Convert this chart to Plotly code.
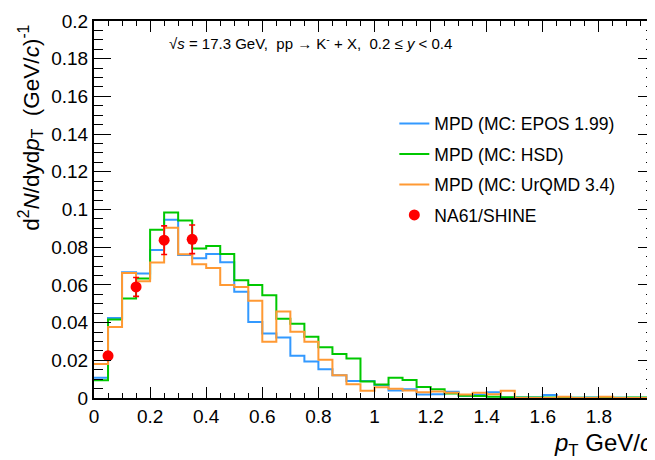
import plotly.graph_objects as go

# ---------------- data ----------------
bin_edges = [round(i * 0.05, 2) for i in range(41)]  # 0 .. 2.0 GeV/c, 0.05 bins

epos_values = [0.0108, 0.0424, 0.0667, 0.0660, 0.0785, 0.0946, 0.0759, 0.0741, 0.0764, 0.0720,
               0.0564, 0.0403, 0.0342, 0.0321, 0.0224, 0.0194, 0.0153, 0.0121, 0.0090, 0.0090,
               0.0069, 0.0040, 0.0047, 0.0018, 0.0020, 0.0033, 0.0012, 0.0017, 0.0030, 0.0002,
               0.0002, 0.0002, 0.0016, 0.0002, 0.0001, 0.0003, 0.0000, 0.0001, 0.0001, 0.0001]

hsd_values = [0.0094, 0.0417, 0.0528, 0.0634, 0.0892, 0.0984, 0.0941, 0.0793, 0.0807, 0.0764,
              0.0625, 0.0599, 0.0545, 0.0420, 0.0394, 0.0325, 0.0269, 0.0234, 0.0210, 0.0087,
              0.0071, 0.0108, 0.0095, 0.0059, 0.0047, 0.0024, 0.0012, 0.0010, 0.0007, 0.0004,
              0.0003, 0.0003, 0.0003, 0.0000, 0.0001, 0.0001, 0.0001, 0.0001, 0.0003, 0.0003]

urqmd_values = [0.0181, 0.0377, 0.0663, 0.0620, 0.0719, 0.0903, 0.0762, 0.0710, 0.0689, 0.0599,
                0.0589, 0.0516, 0.0299, 0.0459, 0.0351, 0.0299, 0.0203, 0.0121, 0.0073, 0.0038,
                0.0057, 0.0049, 0.0040, 0.0030, 0.0035, 0.0028, 0.0018, 0.0028, 0.0020, 0.0038,
                0.0000, 0.0000, 0.0000, 0.0007, 0.0000, 0.0000, 0.0007, 0.0000, 0.0000, 0.0000]

na61_pt = [0.05, 0.15, 0.25, 0.35]
na61_values = [0.0224, 0.0589, 0.0837, 0.0842]
na61_errors = [0.0020, 0.0050, 0.0076, 0.0076]

x_tick_values = [0, 0.2, 0.4, 0.6, 0.8, 1.0, 1.2, 1.4, 1.6, 1.8, 2.0]
x_tick_labels = ["0", "0.2", "0.4", "0.6", "0.8", "1", "1.2", "1.4", "1.6", "1.8", "2"]
y_tick_values = [0, 0.02, 0.04, 0.06, 0.08, 0.1, 0.12, 0.14, 0.16, 0.18, 0.2]
y_tick_labels = ["0", "0.02", "0.04", "0.06", "0.08", "0.1", "0.12", "0.14", "0.16", "0.18", "0.2"]

series_names = ["MPD (MC: EPOS 1.99)", "MPD (MC: HSD)", "MPD (MC: UrQMD 3.4)"]
series_colors = ["#3399ff", "#00c800", "#ff9933"]

# ---------------- figure ----------------
W, H = 655, 460
OFF = 8  # page body margin: figure pixel = window pixel - OFF
L, R, T, B = 86, 3, 7, 70
FONT = "Liberation Sans, Arial, Helvetica, sans-serif"


def px_x(p):
    """window pixel x -> paper fraction"""
    return (p - OFF - L) / (W - L - R)


def px_y(p):
    """window pixel y -> paper fraction"""
    return (H - B - (p - OFF)) / (H - B - T)


fig = go.Figure()

for name, vals, col in zip(series_names, [epos_values, hsd_values, urqmd_values], series_colors):
    fig.add_trace(go.Scatter(
        x=bin_edges, y=vals + [vals[-1]], mode="lines", line_shape="hv",
        line=dict(color=col, width=2), name=name, legendgroup=name,
    ))

fig.add_trace(go.Scatter(
    x=na61_pt, y=na61_values, mode="markers", name="NA61/SHINE", legendgroup="na61",
    marker=dict(color="#ff0000", size=11, symbol="circle"),
    error_y=dict(type="data", array=na61_errors, color="#ff0000", thickness=1.6, width=3),
))

fig.update_layout(
    width=W, height=H,
    margin=dict(l=L, r=R, t=T, b=B, pad=0),
    paper_bgcolor="white", plot_bgcolor="white",
    font=dict(family=FONT, color="black"),
    showlegend=True,
    legend=dict(
        x=px_x(397), y=px_y(101), xanchor="left", yanchor="top",
        bgcolor="rgba(0,0,0,0)", borderwidth=0,
        font=dict(family=FONT, size=17.5, color="black"),
        tracegroupgap=4.7, itemwidth=30,
    ),
    xaxis=dict(
        range=[0, 2], showgrid=False, zeroline=False,
        showline=True, linecolor="black", linewidth=2, mirror="ticks",
        ticks="inside", ticklen=11, tickwidth=1.3, tickcolor="black",
        tickvals=x_tick_values, ticktext=x_tick_labels,
        tickfont=dict(family=FONT, size=19, color="black"),
        ticklabeloverflow="allow",
        minor=dict(ticks="inside", dtick=0.05, tick0=0, ticklen=5, tickwidth=1, tickcolor="black", showgrid=False),
    ),
    yaxis=dict(
        range=[0, 0.2], showgrid=False, zeroline=False,
        showline=True, linecolor="black", linewidth=2, mirror="ticks",
        ticks="inside", ticklen=17, tickwidth=1.3, tickcolor="black",
        tickvals=y_tick_values, ticktext=y_tick_labels,
        tickfont=dict(family=FONT, size=19, color="black"),
        ticklabeloverflow="allow",
        minor=dict(ticks="inside", dtick=0.005, tick0=0, ticklen=9, tickwidth=1, tickcolor="black", showgrid=False),
    ),
)

NB = "\u00a0"
annotations = [
    dict(
        text="√<i>s</i> = 17.3 GeV," + NB * 2 + "pp → K<sup>-</sup> + X," + NB * 2 + "0.2 ≤ <i>y</i> < 0.4",
        x=px_x(168), y=px_y(37), xanchor="left", yanchor="middle",
        font=dict(family=FONT, size=15, color="black"),
    ),
    dict(
        text="d<sup>2</sup><i>N</i>/dyd<i>p</i><sub>T</sub>" + NB * 2 + "(GeV/<i>c</i>)<sup>-1</sup>",
        x=px_x(30), y=px_y(124), xanchor="center", yanchor="middle", textangle=-90,
        font=dict(family=FONT, size=22.5, color="black"),
    ),
    dict(
        text="<i>p</i><sub>T</sub> GeV/<i>c</i>",
        x=px_x(556), y=px_y(445), xanchor="left", yanchor="middle",
        font=dict(family=FONT, size=24, color="black"),
    ),
]
for a in annotations:
    a.update(xref="paper", yref="paper", showarrow=False)
fig.update_layout(annotations=annotations)

fig.write_html("out.html")
